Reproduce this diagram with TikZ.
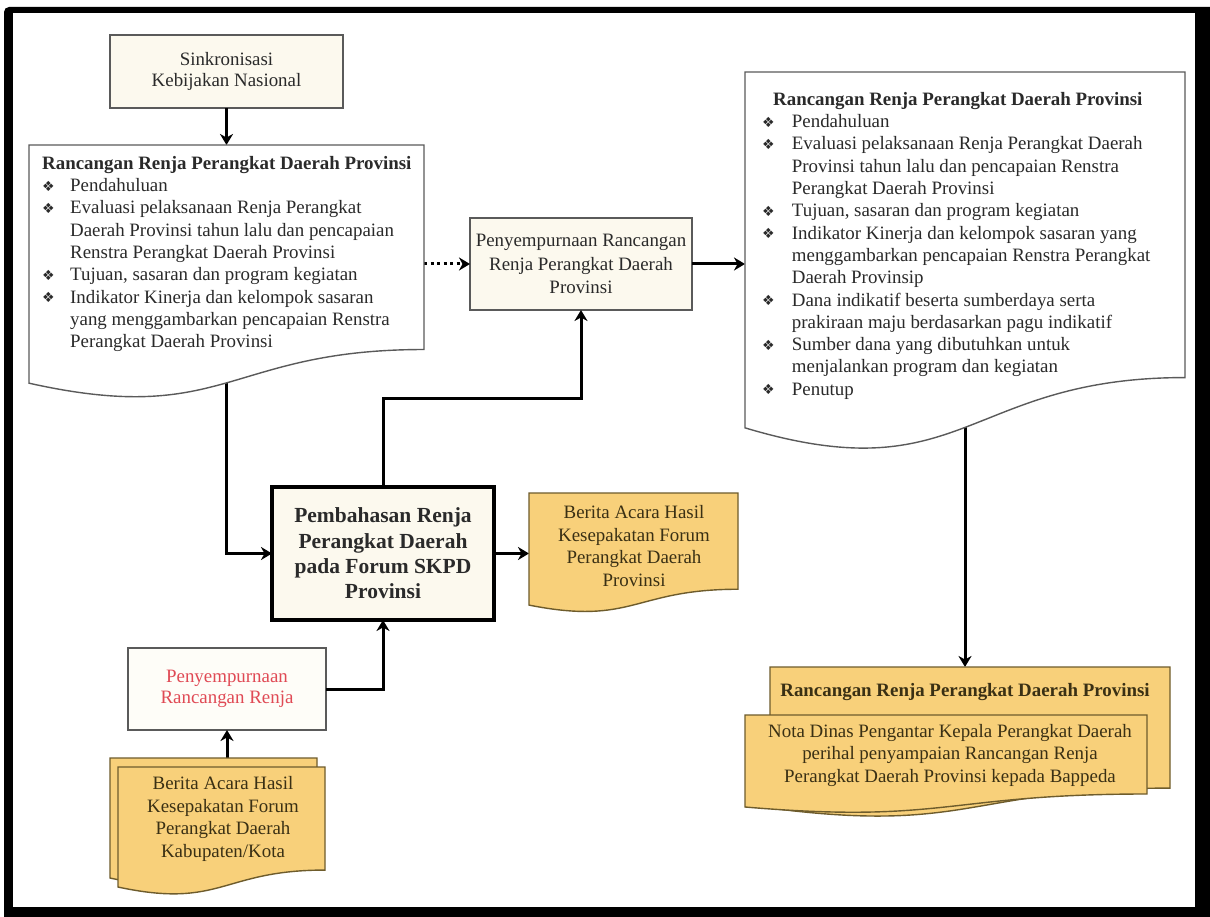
\documentclass[tikz,border=0pt]{standalone}
\usepackage{fontspec}
\setmainfont{Liberation Serif}
\newfontfamily\symf{DejaVu Sans}
\usetikzlibrary{calc,arrows.meta}
\definecolor{cream}{HTML}{FCF9EE}
\definecolor{gold}{HTML}{F8D07A}
\definecolor{goldline}{HTML}{6E5C2C}
\definecolor{goldtext}{HTML}{3A3014}
\definecolor{txt}{HTML}{2A2A2A}
\definecolor{redt}{HTML}{E04A55}
\definecolor{edge}{HTML}{5A5A5A}
\newcommand\docpath[1]{(#1.north west) -- (#1.north east) -- ($(#1.north east)!0.802!(#1.south east)$) .. controls ($(#1.north)!0.802!(#1.south)$) and ($(#1.north)!1.107!(#1.south)$) .. ($(#1.north west)!0.934!(#1.south west)$) -- cycle}
\newcommand\bul[1][28pt]{\makebox[#1][l]{\hspace{0pt}\raisebox{0.5pt}{\symf\fontsize{14}{14}\selectfont ❖}}}
\newcommand\ind[1][28pt]{\hspace*{#1}}
\tikzset{
  anchorbox/.style={draw=none,inner sep=0pt,outer sep=0pt},
  creambox/.style={draw=edge,line width=1.4pt,fill=cream,inner sep=0pt,outer sep=0pt,text=txt,align=center},
  boldbox/.style={draw=black,line width=4pt,fill=cream,inner sep=0pt,outer sep=0pt,text=txt,align=center,font=\fontsize{21.5}{25.3}\selectfont\bfseries},
  docw/.style={draw=edge,line width=1.4pt,fill=white},
  docg/.style={draw=goldline,line width=1.4pt,fill=gold},
  body/.style={font=\fontsize{18.9}{22.3}\selectfont,text=txt,inner sep=0pt},
  goldtxt/.style={font=\fontsize{18.9}{22.5}\selectfont,text=goldtext,inner sep=0pt,align=center},
  arr/.style={line width=3pt,-{Stealth[length=11pt,width=13pt,inset=3.5pt]}},
  dotarr/.style={line width=3pt,dash pattern=on 3pt off 3.5pt,-{Stealth[length=11pt,width=13pt,inset=3.5pt]}}
}
\begin{document}
\begin{tikzpicture}[x=1pt,y=-1pt]
\useasboundingbox (0,0) rectangle (1210,917);
% frame
\fill[black,rounded corners=5pt] (4,7) rectangle (1225,930);
\fill[white] (13,13) rectangle (1195,907);

% box nodes
\node[creambox,minimum width=233pt,minimum height=73pt,font=\fontsize{18.9}{21}\selectfont] (sink) at (226.5,71.5) {Sinkronisasi\\Kebijakan Nasional};
\node[creambox,minimum width=222pt,minimum height=92pt,font=\fontsize{18.9}{23.5}\selectfont] (mid) at (581,264) {Penyempurnaan Rancangan\\Renja Perangkat Daerah\\Provinsi};
\node[boldbox,minimum width=222pt,minimum height=133pt] (bold) at (383,553.5) {Pembahasan Renja\\Perangkat Daerah\\pada Forum SKPD\\Provinsi};
\node[creambox,fill=white!60!cream,minimum width=198pt,minimum height=82pt,font=\fontsize{18.9}{20.5}\selectfont,text=redt] (pr) at (227,689) {Penyempurnaan\\Rancangan Renja};

% document anchor nodes
\node[anchorbox,minimum width=395pt,minimum height=255pt] (ld) at (226.5,272.5) {};
\node[anchorbox,minimum width=440pt,minimum height=381pt] (rd) at (965,262.5) {};
\node[anchorbox,minimum width=209pt,minimum height=120pt] (bp) at (633.5,553) {};
\node[anchorbox,minimum width=207pt,minimum height=128.5pt] (bkb) at (213.5,822.25) {};
\node[anchorbox,minimum width=207pt,minimum height=128.5pt] (bkf) at (221.5,831.25) {};
\node[anchorbox,minimum width=400pt,minimum height=151pt] (rbb) at (970,742.5) {};
\node[anchorbox,minimum width=402pt,minimum height=98.5pt] (rbf) at (946,764.25) {};
\coordinate (jn) at ($(mid.south)+(0,88)$);

% connectors
\draw[arr] (sink.south) -- (ld.north);
\draw[dotarr] (mid.west -| ld.east) -- (mid.west);
\draw[arr] (mid.east) -- (mid.east -| rd.west);
\draw[arr] (ld.center) |- (bold.west);
\draw[arr] (bold.north) |- (jn) -- (mid.south);
\draw[arr] (bold.east) -- (bold.east -| bp.west);
\draw[arr] (pr.east) -| (bold.south);
\draw[arr] (pr.south |- bkb.north) -- (pr.south);
\draw[arr] (rd.center) -- (rd.center |- rbb.north);

% document shapes
\filldraw[docw] \docpath{ld};
\filldraw[docw] \docpath{rd};
\filldraw[docg] \docpath{bp};
\filldraw[docg] \docpath{bkb};
\filldraw[docg] \docpath{bkf};
\filldraw[docg] \docpath{rbb};
\filldraw[docg] \docpath{rbf};

% document texts
\node[body,anchor=north west,align=left] (ldt) at (42,156) {\textbf{Rancangan Renja Perangkat Daerah Provinsi}\\
\bul Pendahuluan\\
\bul Evaluasi pelaksanaan Renja Perangkat\\
\ind Daerah Provinsi tahun lalu dan pencapaian\\
\ind Renstra Perangkat Daerah Provinsi\\
\bul Tujuan, sasaran dan program kegiatan\\
\bul Indikator Kinerja dan kelompok sasaran\\
\ind yang menggambarkan pencapaian Renstra\\
\ind Perangkat Daerah Provinsi};

\node[body,anchor=north west,align=left] (rdt) at (762,92) {\hspace*{11pt}\textbf{Rancangan Renja Perangkat Daerah Provinsi}\\
\bul[25pt] Pendahuluan\\
\bul[25pt] Evaluasi pelaksanaan Renja Perangkat Daerah\\
\ind[25pt] Provinsi tahun lalu dan pencapaian Renstra\\
\ind[25pt] Perangkat Daerah Provinsi\\
\bul[25pt] Tujuan, sasaran dan program kegiatan\\
\bul[25pt] Indikator Kinerja dan kelompok sasaran yang\\
\ind[25pt] menggambarkan pencapaian Renstra Perangkat\\
\ind[25pt] Daerah Provinsip\\
\bul[25pt] Dana indikatif beserta sumberdaya serta\\
\ind[25pt] prakiraan maju berdasarkan pagu indikatif\\
\bul[25pt] Sumber dana yang dibutuhkan untuk\\
\ind[25pt] menjalankan program dan kegiatan\\
\bul[25pt] Penutup};

\node[goldtxt] (bpt) at (634,546) {Berita Acara Hasil\\Kesepakatan Forum\\Perangkat Daerah\\Provinsi};
\node[goldtxt] (bkt) at (223,819) {Berita Acara Hasil\\Kesepakatan Forum\\Perangkat Daerah\\Kabupaten/Kota};
\node[goldtxt,font=\fontsize{18.9}{22.5}\selectfont\bfseries] (rbt) at (965,692) {Rancangan Renja Perangkat Daerah Provinsi};
\node[goldtxt] (rft) at (950,755) {Nota Dinas Pengantar Kepala Perangkat Daerah\\perihal penyampaian Rancangan Renja\\Perangkat Daerah Provinsi kepada Bappeda};
\end{tikzpicture}
\end{document}
